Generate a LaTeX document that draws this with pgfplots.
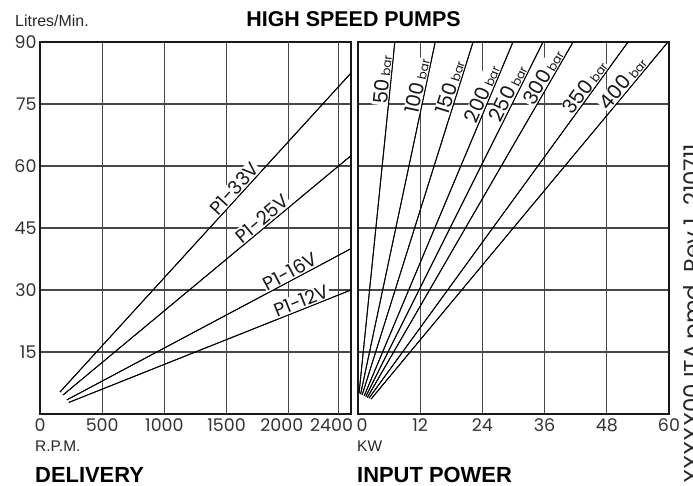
\documentclass[border=0pt]{standalone}
\usepackage{fontspec}
\setmainfont{Liberation Sans}
\newfontfamily\gothic{Poppins}
\usepackage{pgfplots}
\pgfplotsset{compat=1.18}
\tikzset{
  lbl/.style={sloped, above, fill=white, inner sep=1bp, text=black!90,
    font=\gothic\fontsize{19}{19}\selectfont},
  bl/.style={sloped, above, fill=white, inner sep=0.8bp, text=black!90,
    font=\gothic\fontsize{20}{20}\selectfont},
}
\pgfplotsset{
  common/.style={
    scale only axis, width=311bp, height=372bp,
    ymin=0, ymax=90,
    axis line style={line width=2.4bp, black!90},
    grid=major, major grid style={line width=1.2bp, black!72},
    tick style={draw=none},
    ytick={15,30,45,60,75,90},
    tick label style={font=\gothic\fontsize{17.5}{17.5}\selectfont, text=black!80},
    xticklabel style={yshift=-1bp},
  },
  dl/.style={black, line width=0.9bp},
}
\newcommand{\barlbl}[1]{#1\,{\fontsize{12}{12}\selectfont bar}}
\begin{document}
\begin{tikzpicture}
% ---------- DELIVERY ----------
\begin{axis}[common, at={(40bp,72bp)}, anchor=south west,
  xmin=0, xmax=2500,
  xtick={0,500,1000,1500}, xticklabels={0,500,1000,1500},
  extra x ticks={2000,2400}, extra x tick labels={2000,2400},
  extra x tick style={grid=major, xticklabel style={xshift=-7bp}},
  yticklabels={15,30,45,60,75,90}]
\addplot[dl] coordinates {(160,5.3) (2500,82.5)} node[lbl, pos=0.62] {P1-33V};
\addplot[dl] coordinates {(185,4.6) (2500,62.5)} node[lbl, pos=0.71] {P1-25V};
\addplot[dl] coordinates {(215,3.4) (2500,40)} node[lbl, pos=0.80] {P1-16V};
\addplot[dl] coordinates {(232,2.8) (2500,30)} node[lbl, pos=0.835] {P1-12V};
\addplot[dl] coordinates {(160,5.3) (2500,82.5)};
\addplot[dl] coordinates {(185,4.6) (2500,62.5)};
\addplot[dl] coordinates {(215,3.4) (2500,40)};
\addplot[dl] coordinates {(232,2.8) (2500,30)};
\end{axis}
% ---------- INPUT POWER ----------
\begin{axis}[common, at={(358bp,72bp)}, anchor=south west,
  xmin=0, xmax=60,
  xtick={12,24,36,48,60}, xticklabels={12,24,36,48,60},
  extra x ticks={0}, extra x tick labels={0},
  extra x tick style={grid=none, xticklabel style={xshift=4bp}},
  yticklabels={}]
\addplot[dl] coordinates {(0.2,5.0) (7.1,90)} node[bl, pos=0.89] {\barlbl{50}};
\addplot[dl] coordinates {(0.5,4.8) (14.9,90)} node[bl, pos=0.87] {\barlbl{100}};
\addplot[dl] coordinates {(0.8,4.6) (22.2,90)} node[bl, pos=0.865] {\barlbl{150}};
\addplot[dl] coordinates {(1.2,4.4) (29.9,90)} node[bl, pos=0.845] {\barlbl{200}};
\addplot[dl] coordinates {(1.5,4.2) (35.7,90)} node[bl, pos=0.845] {\barlbl{250}};
\addplot[dl] coordinates {(1.8,4.0) (41.5,90)} node[bl, pos=0.89] {\barlbl{300}};
\addplot[dl] coordinates {(2.1,3.8) (52.1,90)} node[bl, pos=0.86] {\barlbl{350}};
\addplot[dl] coordinates {(2.5,3.6) (59.8,90)} node[bl, pos=0.87] {\barlbl{400}};
\addplot[dl] coordinates {(0.2,5.0) (7.1,90)};
\addplot[dl] coordinates {(0.5,4.8) (14.9,90)};
\addplot[dl] coordinates {(0.8,4.6) (22.2,90)};
\addplot[dl] coordinates {(1.2,4.4) (29.9,90)};
\addplot[dl] coordinates {(1.5,4.2) (35.7,90)};
\addplot[dl] coordinates {(1.8,4.0) (41.5,90)};
\addplot[dl] coordinates {(2.1,3.8) (52.1,90)};
\addplot[dl] coordinates {(2.5,3.6) (59.8,90)};
\end{axis}
% ---------- texts ----------
\node[anchor=base, inner sep=0, font=\fontsize{21.5}{21.5}\selectfont\bfseries] at (353.5bp,459bp) {HIGH SPEED PUMPS};
\node[anchor=base west, inner sep=0, font=\fontsize{16}{16}\selectfont, text=black!85] at (15bp,459bp) {Litres/Min.};
\node[anchor=base west, inner sep=0, font=\fontsize{15.5}{15.5}\selectfont, text=black!85] at (35bp,35bp) {R.P.M.};
\node[anchor=base west, inner sep=0, font=\fontsize{15.5}{15.5}\selectfont, text=black!85] at (357bp,35bp) {KW};
\node[anchor=base west, inner sep=0, font=\fontsize{22}{22}\selectfont\bfseries] at (35bp,4bp) {DELIVERY};
\node[anchor=base west, inner sep=0, font=\fontsize{22}{22}\selectfont\bfseries] at (357bp,4bp) {INPUT POWER};
\node[rotate=90, anchor=base west, inner sep=0, font=\gothic\fontsize{23}{23}\selectfont, text=black!85] at (700bp,2bp) {XXXXX00 ITA.pmd\ \ Rev 1\ \ 210711};
\pgfresetboundingbox
\useasboundingbox (0bp,0bp) rectangle (693bp,486bp);
\end{tikzpicture}
\end{document}
